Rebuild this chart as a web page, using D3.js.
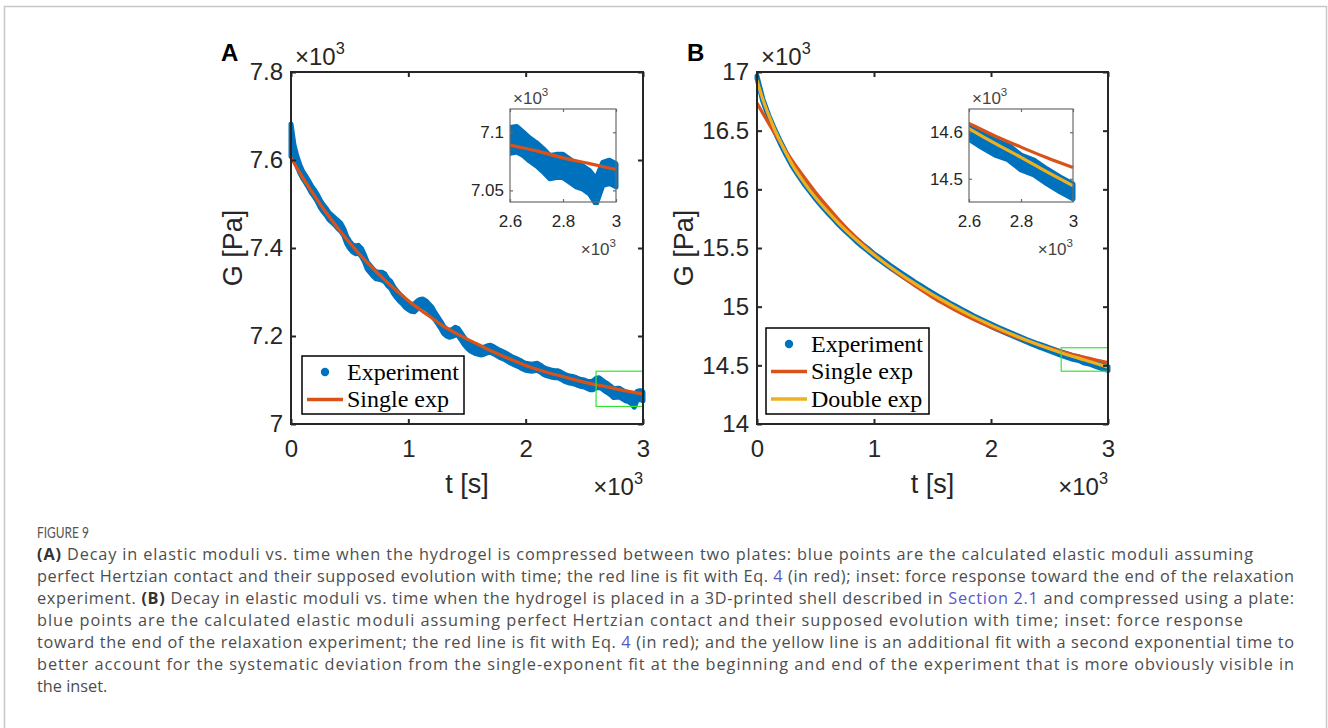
<!DOCTYPE html>
<html>
<head>
<meta charset="utf-8">
<script src="https://cdn.jsdelivr.net/npm/d3@7"></script>
<style>
  body { margin: 0; background: #fff; }
  svg { display: block; }
</style>
</head>
<body>
<svg id="fig" width="1328" height="728"></svg>
<script>
/*******************************************************************************************/
// Data (t in s, G in units of 10^3 Pa)

var tA = [0,25,50,75,100,125,150,175,
  200,225,250,275,300,325,350,375,
  400,425,450,475,500,525,550,575,
  600,625,650,675,700,725,750,775,
  800,825,850,875,900,925,950,975,
  1000,1025,1050,1075,1100,1125,1150,1175,
  1200,1225,1250,1275,1300,1325,1350,1375,
  1400,1425,1450,1475,1500,1525,1550,1575,
  1600,1625,1650,1675,1700,1725,1750,1775,
  1800,1825,1850,1875,1900,1925,1950,1975,
  2000,2025,2050,2075,2100,2125,2150,2175,
  2200,2225,2250,2275,2300,2325,2350,2375,
  2400,2425,2450,2475,2500,2525,2550,2575,
  2600,2625,2650,2675,2700,2725,2750,2775,
  2800,2825,2850,2875,2900,2925,2950,2975,
  3000];

// experiment A: band centre and half spread
var expA = [7.645,7.620,7.598,7.580,7.566,7.556,7.545,7.533,
  7.524,7.513,7.500,7.490,7.482,7.472,7.466,7.460,
  7.453,7.447,7.436,7.418,7.407,7.399,7.396,7.397,
  7.390,7.377,7.360,7.352,7.344,7.338,7.337,7.336,
  7.332,7.322,7.316,7.304,7.295,7.287,7.281,7.273,
  7.268,7.264,7.264,7.270,7.274,7.275,7.271,7.265,
  7.258,7.246,7.236,7.226,7.214,7.208,7.205,7.207,
  7.211,7.209,7.199,7.189,7.181,7.175,7.171,7.168,
  7.166,7.165,7.167,7.170,7.171,7.168,7.164,7.160,
  7.157,7.154,7.150,7.146,7.143,7.140,7.137,7.133,
  7.130,7.129,7.128,7.129,7.130,7.126,7.121,7.118,
  7.116,7.114,7.113,7.113,7.110,7.106,7.103,7.101,
  7.100,7.098,7.095,7.093,7.092,7.089,7.087,7.088,
  7.093,7.094,7.090,7.085,7.081,7.076,7.070,7.071,
  7.071,7.067,7.063,7.061,7.057,7.049,7.064,7.066,
  7.063];
var sprA = [.037,.015,.011,.009,.008,.008,.008,.008,
  .008,.008,.008,.008,.008,.008,.008,.008,
  .009,.009,.008,.008,.008,.008,.009,.009,
  .009,.008,.008,.008,.008,.008,.008,.009,
  .009,.008,.008,.008,.008,.008,.008,.008,
  .008,.008,.009,.009,.009,.009,.009,.008,
  .008,.008,.008,.008,.008,.008,.008,.008,
  .009,.008,.008,.008,.008,.008,.008,.008,
  .008,.008,.008,.008,.008,.008,.008,.008,
  .008,.008,.008,.008,.008,.008,.008,.008,
  .008,.008,.008,.008,.008,.008,.008,.008,
  .008,.008,.008,.008,.008,.008,.008,.008,
  .008,.008,.008,.008,.008,.008,.009,.010,
  .011,.011,.010,.010,.010,.010,.010,.010,
  .010,.010,.010,.010,.010,.011,.010,.010,
  .010];

var tB = [0,50,100,150,200,250,300,350,400,450,
  500,550,600,650,700,750,800,850,900,950,
  1000,1050,1100,1150,1200,1250,1300,1350,1400,1450,
  1500,1550,1600,1650,1700,1750,1800,1850,1900,1950,
  2000,2050,2100,2150,2200,2250,2300,2350,2400,2450,
  2500,2550,2600,2650,2700,2750,2800,2850,2900,2950,
  3000];
var expB = [16.955,16.760,16.622,16.505,16.398,16.300,16.208,16.132,16.058,15.993,
  15.928,15.870,15.813,15.760,15.706,15.658,15.612,15.565,15.522,15.484,
  15.440,15.406,15.370,15.333,15.300,15.266,15.233,15.200,15.170,15.138,
  15.108,15.077,15.049,15.020,14.993,14.966,14.940,14.913,14.889,14.866,
  14.842,14.818,14.797,14.776,14.754,14.733,14.712,14.692,14.672,14.655,
  14.636,14.618,14.600,14.583,14.567,14.557,14.535,14.524,14.505,14.488,
  14.473];
var sprB = [.010,.010,.010,.010,.010,.010,.010,.010,.010,.010,
  .010,.010,.010,.010,.010,.010,.010,.010,.010,.010,
  .010,.010,.010,.010,.010,.010,.010,.010,.010,.010,
  .010,.010,.010,.010,.010,.010,.010,.010,.010,.010,
  .010,.010,.010,.010,.010,.010,.010,.011,.012,.013,
  .014,.014,.015,.016,.016,.016,.016,.016,.016,.016,
  .016];

// fits
var tFit = [0,100,200,300,400,500,600,700,800,900,
  1000,1100,1200,1300,1400,1500,1600,1700,1800,1900,
  2000,2100,2200,2300,2400,2500,2600,2700,2800,2900,
  3000];
var singleA = [7.605,7.560,7.519,7.480,7.445,7.412,7.381,7.353,7.327,7.303,
  7.280,7.260,7.241,7.222,7.207,7.193,7.180,7.167,7.155,7.144,
  7.133,7.124,7.116,7.109,7.102,7.095,7.089,7.084,7.078,7.073,
  7.068];
var singleB = [16.736,16.561,16.399,16.247,16.107,15.976,15.855,15.741,15.636,15.539,
  15.448,15.363,15.285,15.212,15.144,15.080,15.022,14.967,14.916,14.869,
  14.825,14.784,14.746,14.711,14.678,14.647,14.619,14.592,14.568,14.545,
  14.524];
var tDbl = [0,25,50,75,100,150,200,250,300,
  400,500,600,700,800,900,1000,1100,1200,1300,1400,1500,1600,1700,1800,1900,
  2000,2100,2200,2300,2400,2500,2600,2700,2800,2900,3000];
var doubleB = [16.930,16.845,16.768,16.697,16.632,16.512,16.405,16.305,16.213,
  16.062,15.930,15.815,15.708,15.612,15.524,15.442,15.366,15.295,15.228,15.164,15.103,15.046,14.991,14.939,14.890,
  14.843,14.798,14.756,14.716,14.678,14.642,14.608,14.576,14.546,14.515,14.485];

var xTicks = [0,1000,2000,3000];
var yTicksA = [7,7.2,7.4,7.6,7.8], yTicksB = [14,14.5,15,15.5,16,16.5,17];
var inXTicks = [2600,2800,3000];
var inYTicksA = [7.05,7.1], inYTicksB = [14.5,14.6];
var legendA = ['Experiment','Single exp'], legendB = ['Experiment','Single exp','Double exp'];

var captionLines = [
  [['b','(A)'],['n',' Decay in elastic moduli vs. time when the hydrogel is compressed between two plates: blue points are the calculated elastic moduli assuming']],
  [['n','perfect Hertzian contact and their supposed evolution with time; the red line is fit with Eq. '],['l','4'],['n',' (in red); inset: force response toward the end of the relaxation']],
  [['n','experiment. '],['b','(B)'],['n',' Decay in elastic moduli vs. time when the hydrogel is placed in a 3D-printed shell described in '],['l','Section 2.1'],['n',' and compressed using a plate:']],
  [['n','blue points are the calculated elastic moduli assuming perfect Hertzian contact and their supposed evolution with time; inset: force response']],
  [['n','toward the end of the relaxation experiment; the red line is fit with Eq. '],['l','4'],['n',' (in red); and the yellow line is an additional fit with a second exponential time to']],
  [['n','better account for the systematic deviation from the single-exponent fit at the beginning and end of the experiment that is more obviously visible in']],
  [['n','the inset.']]
];

/*******************************************************************************************/
// Styles

var BLUE = '#0072bd', RED = '#d95319', YELLOW = '#edb120', AXIS = '#262626';
var SANS = '"Liberation Sans", Arial, sans-serif', SERIF = '"Liberation Serif", "Times New Roman", serif';
var CAP = '"Open Sans", "Noto Sans", sans-serif';

var svg = d3.select('#fig');

svg.append('rect').attr('x', 4.5).attr('y', 6.5).attr('width', 1322).attr('height', 760)
  .attr('fill', 'none').attr('stroke', '#c8c8c8').attr('stroke-width', 1.5);

function fmt(d){ return String(+(d).toFixed(2)); }
function fmtK(d){ return String(+(d/1000).toFixed(1)); }

/*******************************************************************************************/
// Band + lines

function bandPath(x, y, t, c, s){
  return d3.area().x((d, i) => x(t[i])).y0((d, i) => y(c[i] - s[i])).y1((d, i) => y(c[i] + s[i]))(c);
}
function linePath(x, y, t, v){
  return d3.line().curve(d3.curveMonotoneX).x((d, i) => x(t[i])).y(d => y(d))(v);
}

function drawData(g, x, y, p, sw){
  g.append('path').attr('d', bandPath(x, y, p.t, p.exp, p.spr))
    .attr('fill', BLUE).attr('stroke', BLUE).attr('stroke-width', sw).attr('stroke-linejoin', 'round');
  p.fits.forEach(f => {
    g.append('path').attr('d', linePath(x, y, f.t, f.v))
      .attr('fill', 'none').attr('stroke', f.color).attr('stroke-width', 3.2);
  });
}

function axes(g, x, y, xt, yt, o){
  var x0 = x.range()[0], x1 = x.range()[1], y0 = y.range()[0], y1 = y.range()[1];
  var ax = [
    ['translate(0,' + y0 + ')', d3.axisBottom(x).tickValues(xt).tickFormat(fmtK).tickPadding(o.xPad)],
    ['translate(0,' + y1 + ')', d3.axisTop(x).tickValues(xt).tickFormat('')],
    ['translate(' + x0 + ',0)', d3.axisLeft(y).tickValues(yt).tickFormat(fmt).tickPadding(o.yPad)],
    ['translate(' + x1 + ',0)', d3.axisRight(y).tickValues(yt).tickFormat('')]
  ];
  ax.forEach(a => {
    var s = g.append('g').attr('transform', a[0]).call(a[1].tickSizeInner(-o.tick).tickSizeOuter(0));
    s.select('.domain').remove();
    s.selectAll('line').attr('stroke', o.color).attr('stroke-width', o.sw);
    s.selectAll('text').attr('fill', AXIS).style('font-family', SANS).style('font-size', o.font + 'px');
  });
  g.append('rect').attr('x', x0).attr('y', y1).attr('width', x1 - x0).attr('height', y0 - y1)
    .attr('fill', 'none').attr('stroke', o.color).attr('stroke-width', o.sw);
}

function times10(g, px, py, anchor, size, color){
  var t = g.append('text').attr('x', px).attr('y', py).attr('text-anchor', anchor)
    .attr('fill', color).style('font-family', SANS).style('font-size', size + 'px');
  t.append('tspan').text('×10');
  t.append('tspan').attr('dy', -size * 0.45).style('font-size', (size * 0.68) + 'px').text('3');
}

/*******************************************************************************************/
// Panel

function createPanel(p){
  var g = svg.append('g');
  var x = d3.scaleLinear().domain([0, 3000]).range([p.left, p.right]);
  var y = d3.scaleLinear().domain(p.yDomain).range([424, 72]);

  drawData(g, x, y, p, 5);

  g.append('rect').attr('x', x(2600)).attr('y', y(p.inDomain[1]))
    .attr('width', x(3000) - x(2600)).attr('height', y(p.inDomain[0]) - y(p.inDomain[1]))
    .attr('fill', 'none').attr('stroke', '#33e533').attr('stroke-width', 1.2);

  axes(g, x, y, xTicks, p.yTicks, { tick: 5, xPad: 16, yPad: 8, font: 24, color: AXIS, sw: 2 });

  times10(g, p.left + 4, 65, 'start', 24, AXIS);
  times10(g, p.right, 495, 'end', 24, AXIS);

  g.append('text').attr('x', (p.left + p.right) / 2).attr('y', 493).attr('text-anchor', 'middle')
    .attr('fill', AXIS).style('font-family', SANS).style('font-size', '27px').text('t [s]');
  g.append('text').attr('transform', 'translate(' + p.ylabX + ',248) rotate(-90)')
    .attr('text-anchor', 'middle').attr('dominant-baseline', 'central')
    .attr('fill', AXIS).style('font-family', SANS).style('font-size', '27px').text('G [Pa]');

  g.append('text').attr('x', p.left - 70).attr('y', 61).attr('fill', '#000')
    .style('font-family', SANS).style('font-size', '24px').style('font-weight', 'bold').text(p.letter);

  // legend
  var lg = g.append('g').attr('transform', 'translate(' + p.leg[0] + ',' + p.leg[1] + ')');
  lg.append('rect').attr('width', p.leg[2]).attr('height', p.leg[3])
    .attr('fill', '#fff').attr('stroke', '#000').attr('stroke-width', 1.5);
  p.legend.forEach((name, i) => {
    var ry = 16 + i * 27.5;
    if (i == 0) lg.append('circle').attr('cx', 23).attr('cy', ry).attr('r', 4.2).attr('fill', BLUE);
    else lg.append('line').attr('x1', 5).attr('x2', 41).attr('y1', ry).attr('y2', ry)
      .attr('stroke', p.fits[i - 1].color).attr('stroke-width', 3.5);
    lg.append('text').attr('x', 45).attr('y', ry + 7.5).attr('fill', '#000')
      .style('font-family', SERIF).style('font-size', '24px').text(name);
  });

  // inset
  var ig = g.append('g');
  var ix = d3.scaleLinear().domain([2600, 3000]).range([p.inBox[0], p.inBox[1]]);
  var iy = d3.scaleLinear().domain(p.inDomain).range([p.inBox[3], p.inBox[2]]);
  ig.append('rect').attr('x', p.inBox[0]).attr('y', p.inBox[2])
    .attr('width', p.inBox[1] - p.inBox[0]).attr('height', p.inBox[3] - p.inBox[2]).attr('fill', '#fff');
  var cid = 'clip' + p.letter;
  ig.append('clipPath').attr('id', cid).append('rect')
    .attr('x', p.inBox[0]).attr('y', p.inBox[2] - 3)
    .attr('width', p.inBox[1] - p.inBox[0] + 4).attr('height', p.inBox[3] - p.inBox[2] + 6);
  drawData(ig.append('g').attr('clip-path', 'url(#' + cid + ')'), ix, iy, p, 5);
  axes(ig, ix, iy, inXTicks, p.inYTicks, { tick: 3, xPad: 13, yPad: 6, font: 17, color: '#6b6b6b', sw: 1.2 });
  times10(ig, p.inBox[0] + 3, 104, 'start', 17, '#444');
  times10(ig, p.inBox[1], 255, 'end', 17, '#444');
}

createPanel({
  letter: 'A', left: 291, right: 643, yDomain: [7, 7.8], yTicks: yTicksA, ylabX: 233,
  t: tA, exp: expA, spr: sprA,
  fits: [{ t: tFit, v: singleA, color: RED }],
  legend: legendA, leg: [302, 356, 162, 58],
  inBox: [510, 616, 109, 202], inDomain: [7.04, 7.12], inYTicks: inYTicksA
});

createPanel({
  letter: 'B', left: 757, right: 1108, yDomain: [14, 17], yTicks: yTicksB, ylabX: 684,
  t: tB, exp: expB, spr: sprB,
  fits: [{ t: tFit, v: singleB, color: RED }, { t: tDbl, v: doubleB, color: YELLOW }],
  legend: legendB, leg: [766, 328, 163, 86],
  inBox: [969, 1073, 109, 202], inDomain: [14.45, 14.65], inYTicks: inYTicksB
});

/*******************************************************************************************/
// Caption

var capWidth = [1216, 1257, 1257, 1206, 1257, 1257, null];

svg.append('text').attr('x', 37).attr('y', 538).attr('fill', '#555')
  .attr('textLength', 52).attr('lengthAdjust', 'spacingAndGlyphs')
  .style('font-family', 'Lato, sans-serif').style('font-size', '14.5px').text('FIGURE 9');

captionLines.forEach((line, i) => {
  var t = svg.append('text').attr('x', 37).attr('y', 560 + i * 22).attr('fill', '#4d4d4d')
    .style('font-family', CAP).style('font-size', '16.3px');
  if (capWidth[i]) t.attr('textLength', capWidth[i]).attr('lengthAdjust', 'spacing');
  line.forEach(seg => {
    var s = t.append('tspan').text(seg[1]);
    if (seg[0] == 'b') s.style('font-weight', 'bold').attr('fill', '#333');
    if (seg[0] == 'l') s.attr('fill', '#5a56c8');
  });
});
</script>
</body>
</html>
